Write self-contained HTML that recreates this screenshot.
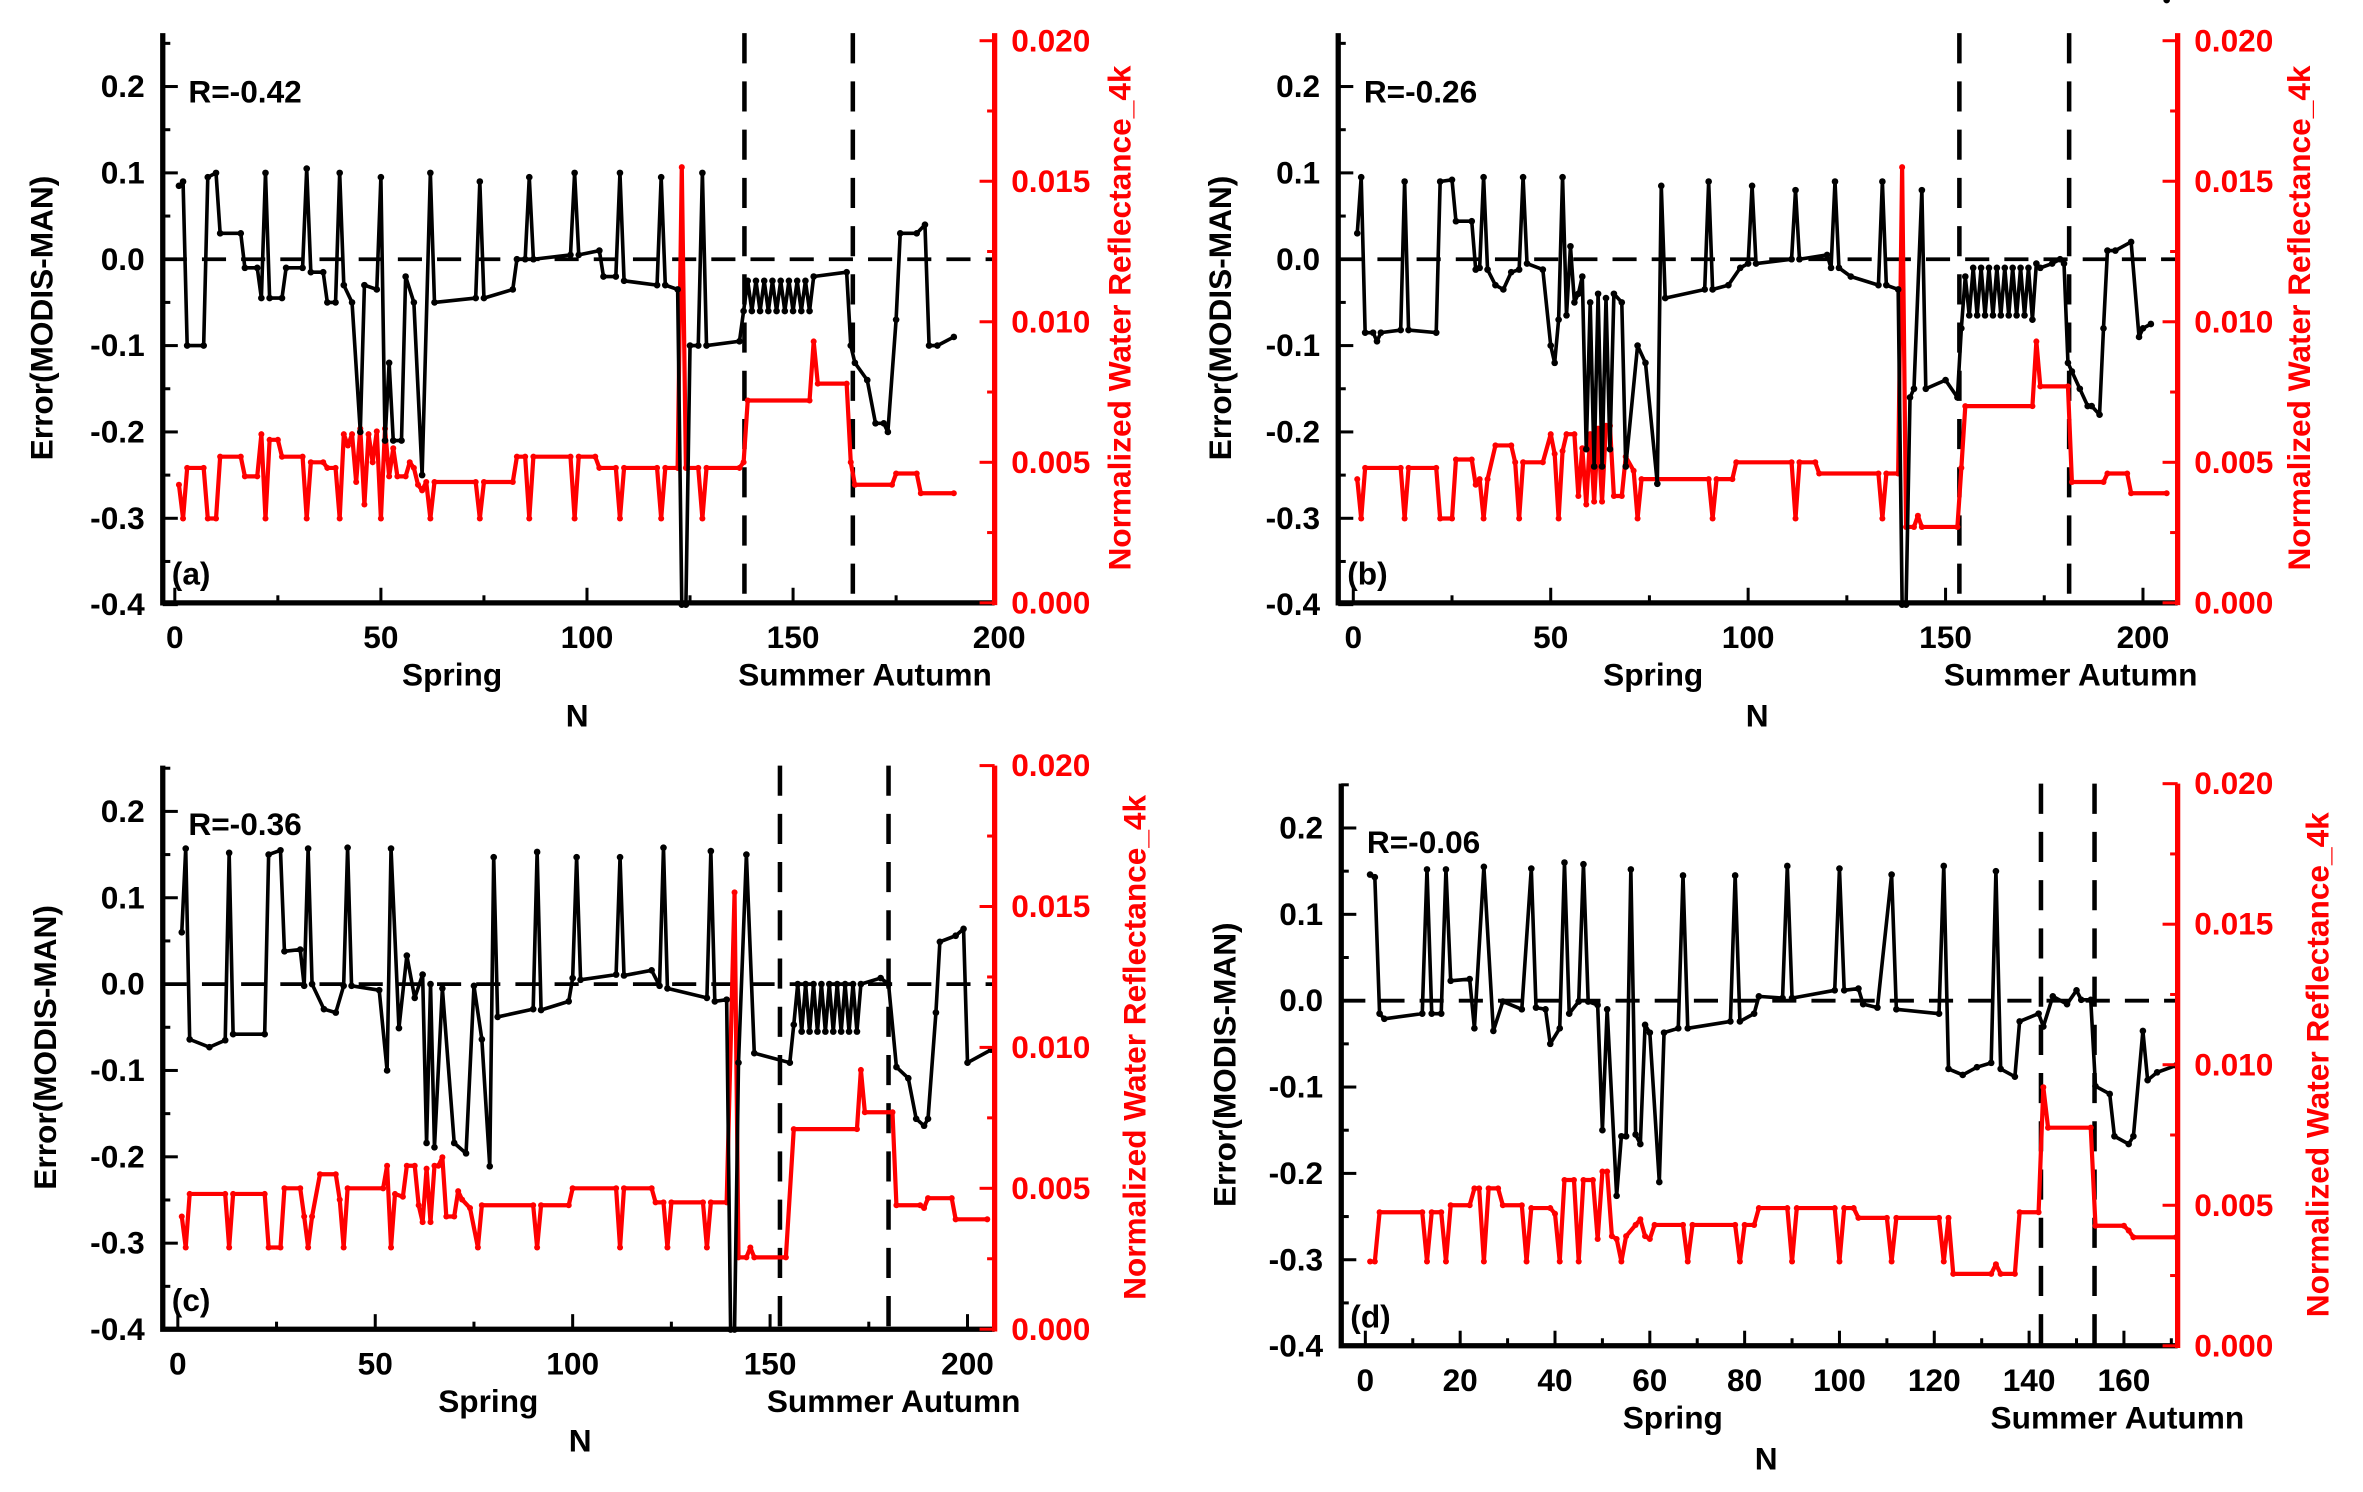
<!DOCTYPE html>
<html><head><meta charset="utf-8"><style>
html,body{margin:0;padding:0;background:#fff;}
svg{display:block;}
text{font-family:"Liberation Sans",sans-serif;font-weight:bold;}
</style></head><body>
<svg id="fig" xmlns="http://www.w3.org/2000/svg" width="2363" height="1492" viewBox="0 0 1568 990"></svg>
<script>
// ---------- DATA (N, error) key points per panel ----------
const aN=[1,2,3,7,8,10,11,16,17,20,21,22,23,26,27,31,32,33,36,37,39,40,41,43,45,46,49,50,51,52,53,55,56,58,60,62,63,73,74,75,82,83,85,86,87,96,97,98,103,104,107,108,109,117,118,119,122,123,124,125,127,128,129,137,138,139,140,141,142,143,144,145,146,147,148,149,150,151,152,153,154,155,163,164,165,168,170,172,173,175,176,180,182,183,185,189];
const aErr=[0.085,0.09,-0.1,-0.1,0.095,0.1,0.03,0.03,-0.01,-0.01,-0.045,0.1,-0.045,-0.045,-0.01,-0.01,0.105,-0.015,-0.015,-0.05,-0.05,0.1,-0.03,-0.05,-0.2,-0.03,-0.035,0.095,-0.21,-0.12,-0.21,-0.21,-0.02,-0.05,-0.25,0.1,-0.05,-0.045,0.09,-0.045,-0.035,0.0,0.0,0.095,0.0,0.005,0.1,0.005,0.01,-0.02,-0.02,0.1,-0.025,-0.03,0.095,-0.03,-0.035,-0.4,-0.4,-0.1,-0.1,0.1,-0.1,-0.095,-0.06,-0.025,-0.06,-0.025,-0.06,-0.025,-0.06,-0.025,-0.06,-0.025,-0.06,-0.025,-0.06,-0.025,-0.06,-0.025,-0.06,-0.02,-0.015,-0.1,-0.12,-0.14,-0.19,-0.19,-0.2,-0.07,0.03,0.03,0.04,-0.1,-0.1,-0.09];
const aRN=[1,2,3,7,8,10,11,16,17,20,21,22,23,25,26,31,32,33,36,37,39,40,41,42,43,44,45,46,47,48,49,50,51,52,53,54,56,57,58,59,60,61,62,63,73,74,75,82,83,85,86,87,96,97,98,102,103,107,108,109,117,118,119,122,123,124,127,128,129,137,138,139,154,155,156,163,164,165,174,175,180,181,189];
const aRef=[4.2,3.0,4.8,4.8,3.0,3.0,5.2,5.2,4.5,4.5,6.0,3.0,5.8,5.8,5.2,5.2,3.0,5.0,5.0,4.8,4.8,3.0,6.0,5.6,6.0,4.3,6.2,3.5,6.0,5.0,6.1,3.0,6.2,4.5,5.5,4.5,4.5,5.0,4.8,4.2,4.0,4.3,3.0,4.3,4.3,3.0,4.3,4.3,5.2,5.2,3.0,5.2,5.2,3.0,5.2,5.2,4.8,4.8,3.0,4.8,4.8,3.0,4.8,4.8,15.5,4.8,4.8,3.0,4.8,4.8,5.0,7.2,7.2,9.3,7.8,7.8,5.0,4.2,4.2,4.6,4.6,3.9,3.9];

const bN=[1,2,3,5,6,7,12,13,14,21,22,25,26,30,31,32,33,34,36,38,40,42,43,44,48,50,51,52,53,54,55,56,57,58,59,60,61,62,63,64,65,66,68,69,72,74,77,78,79,89,90,91,95,98,100,101,102,111,112,113,120,121,122,123,126,133,134,135,138,139,140,141,142,144,145,150,153,154,155,156,157,158,159,160,161,162,163,164,165,166,167,168,169,170,171,172,173,174,177,179,180,181,182,184,186,187,189,190,191,193,197,199,200,202,206];
const bErr=[0.03,0.095,-0.085,-0.085,-0.095,-0.085,-0.082,0.09,-0.082,-0.085,0.09,0.092,0.044,0.044,-0.012,-0.01,0.095,-0.012,-0.03,-0.035,-0.015,-0.012,0.095,-0.005,-0.012,-0.1,-0.12,-0.07,0.095,-0.065,0.015,-0.05,-0.04,-0.02,-0.22,-0.05,-0.24,-0.04,-0.24,-0.045,-0.22,-0.04,-0.05,-0.24,-0.1,-0.12,-0.26,0.085,-0.045,-0.035,0.09,-0.035,-0.03,-0.01,-0.005,0.085,-0.005,0.0,0.08,0.0,0.005,-0.01,0.09,-0.01,-0.02,-0.03,0.09,-0.03,-0.035,-0.4,-0.4,-0.16,-0.15,0.08,-0.15,-0.14,-0.16,-0.08,-0.02,-0.065,-0.01,-0.065,-0.01,-0.065,-0.01,-0.065,-0.01,-0.065,-0.01,-0.065,-0.01,-0.065,-0.01,-0.065,-0.01,-0.07,-0.005,-0.01,-0.005,0.0,-0.005,-0.12,-0.13,-0.15,-0.17,-0.17,-0.18,-0.08,0.01,0.01,0.02,-0.09,-0.08,-0.075];
const bRN=[1,2,3,12,13,14,21,22,25,26,30,31,32,33,34,36,40,41,42,43,48,50,51,52,53,54,56,57,58,59,60,61,62,63,64,65,66,68,69,71,72,73,90,91,92,96,97,111,112,113,117,118,133,134,135,138,139,140,142,143,144,153,154,155,172,173,174,181,182,190,191,196,197,206];
const bRef=[4.4,3.0,4.8,4.8,3.0,4.8,4.8,3.0,3.0,5.1,5.1,4.2,4.4,3.0,4.4,5.6,5.6,5.0,3.0,5.0,5.0,6.0,5.3,3.0,5.4,6.0,6.0,3.8,5.5,3.5,6.0,3.6,6.2,3.6,6.3,6.3,3.8,3.8,5.2,4.7,3.0,4.4,4.4,3.0,4.4,4.4,5.0,5.0,3.0,5.0,5.0,4.6,4.6,3.0,4.6,4.6,15.5,2.7,2.7,3.1,2.7,2.7,4.8,7.0,7.0,9.3,7.7,7.7,4.3,4.3,4.6,4.6,3.9,3.9];

const cN=[1,2,3,8,12,13,14,22,23,26,27,31,32,33,34,37,40,42,43,44,51,53,54,56,58,60,62,63,64,65,67,70,73,75,77,79,80,81,90,91,92,99,100,101,102,111,112,113,120,122,123,124,134,135,136,139,140,141,142,144,146,155,156,157,158,159,160,161,162,163,164,165,166,167,168,169,170,171,172,173,178,180,182,185,187,189,190,192,193,197,199,200,206];
const cErr=[0.06,0.157,-0.064,-0.073,-0.065,0.152,-0.058,-0.058,0.15,0.155,0.038,0.04,-0.002,0.157,0.0,-0.029,-0.033,-0.002,0.158,-0.002,-0.007,-0.1,0.157,-0.051,0.033,-0.016,0.011,-0.184,0.0,-0.189,-0.005,-0.184,-0.196,-0.002,-0.064,-0.211,0.147,-0.038,-0.029,0.153,-0.03,-0.02,0.007,0.147,0.005,0.011,0.147,0.01,0.016,-0.002,0.158,-0.005,-0.016,0.154,-0.02,-0.018,-0.4,-0.4,-0.091,0.15,-0.08,-0.091,-0.047,0.0,-0.055,0.0,-0.055,0.0,-0.055,0.0,-0.055,0.0,-0.055,0.0,-0.055,0.0,-0.055,0.0,-0.055,0.0,0.007,0.0,-0.096,-0.109,-0.156,-0.164,-0.156,-0.033,0.049,0.056,0.064,-0.091,-0.076];
const cRN=[1,2,3,12,13,14,22,23,26,27,31,32,33,34,36,40,41,42,43,52,53,54,55,57,58,60,61,62,63,64,65,66,67,68,70,71,72,74,76,77,90,91,92,99,100,111,112,113,120,121,123,124,125,133,134,135,139,141,142,144,145,146,154,156,172,173,174,181,182,188,189,190,196,197,205];
const cRef=[4.0,2.9,4.8,4.8,2.9,4.8,4.8,2.9,2.9,5.0,5.0,4.0,2.9,4.0,5.5,5.5,4.6,2.9,5.0,5.0,5.8,2.9,4.8,4.7,5.8,5.8,4.4,3.8,5.7,3.8,5.8,5.8,6.1,4.0,4.0,4.9,4.6,4.3,2.9,4.4,4.4,2.9,4.4,4.4,5.0,5.0,2.9,5.0,5.0,4.5,4.5,2.9,4.5,4.5,2.9,4.5,4.5,15.5,2.55,2.55,2.9,2.55,2.55,7.1,7.1,9.2,7.7,7.7,4.4,4.4,4.3,4.65,4.65,3.9,3.9];

const dN=[1,2,3,4,12,13,14,16,17,18,22,23,25,27,29,33,35,36,38,39,41,42,43,45,46,47,49,50,51,53,54,55,56,57,58,59,60,62,63,66,67,68,77,78,79,82,83,88,89,90,99,100,101,104,105,108,111,112,121,122,123,126,129,132,133,134,137,138,142,143,145,148,150,151,153,154,157,158,161,162,164,165,167,171];
const dErr=[0.146,0.143,-0.015,-0.021,-0.015,0.152,-0.015,-0.015,0.152,0.023,0.025,-0.032,0.155,-0.035,-0.001,-0.01,0.153,-0.008,-0.01,-0.05,-0.032,0.16,-0.015,-0.001,0.158,-0.001,-0.005,-0.15,-0.01,-0.226,-0.157,-0.157,0.152,-0.155,-0.166,-0.028,-0.037,-0.21,-0.037,-0.032,0.145,-0.032,-0.024,0.145,-0.024,-0.015,0.005,0.003,0.156,0.003,0.012,0.153,0.012,0.014,-0.004,-0.008,0.146,-0.01,-0.015,0.156,-0.079,-0.086,-0.077,-0.072,0.15,-0.079,-0.088,-0.024,-0.015,-0.03,0.005,-0.004,0.012,0.001,0.001,-0.099,-0.108,-0.157,-0.166,-0.157,-0.035,-0.092,-0.083,-0.075];
const dRN=[1,2,3,12,13,14,16,17,18,22,23,24,25,26,28,29,33,34,35,39,40,41,42,44,45,46,48,49,50,51,52,53,54,55,57,58,59,60,61,67,68,69,78,79,80,82,83,89,90,91,99,100,101,103,104,110,111,112,121,122,123,124,132,133,134,137,138,142,143,144,153,154,160,161,162,171];
const dRef=[3.0,3.0,4.75,4.75,3.0,4.75,4.75,3.0,5.0,5.0,5.6,5.6,3.0,5.6,5.6,5.0,5.0,3.0,4.9,4.9,4.7,3.0,5.9,5.9,3.0,5.9,5.9,3.8,6.2,6.2,3.9,3.8,3.0,3.9,4.3,4.5,3.9,3.8,4.3,4.3,3.0,4.3,4.3,3.0,4.3,4.3,4.9,4.9,3.0,4.9,4.9,3.0,4.9,4.9,4.55,4.55,3.0,4.55,4.55,3.0,4.55,2.56,2.56,2.9,2.56,2.56,4.75,4.75,9.2,7.76,7.76,4.27,4.27,4.1,3.86,3.86];

// tick labels
const xTicksAB=[0,50,100,150,200];
const xTicksD=[0,20,40,60,80,100,120,140,160];
const yTicks=[0.2,0.1,0.0,-0.1,-0.2,-0.3,-0.4];
const yTickLabels=["0.2","0.1","0.0","-0.1","-0.2","-0.3","-0.4"];
const rTicks=[0,5,10,15,20];
const rTickLabels=["0.000","0.005","0.010","0.015","0.020"];
const seasonA=[138.2,164.5], seasonB=[153.5,181.3], seasonC=[152.5,180], seasonD=[142.5,153.8];

const NS="http://www.w3.org/2000/svg";
const svg=document.getElementById('fig');
function el(tag,attrs,parent){const e=document.createElementNS(NS,tag);for(const k in attrs)e.setAttribute(k,attrs[k]);(parent||svg).appendChild(e);return e;}

const panels=[
 {id:'a',L:108,R:660,T:22,B:400,x0:116,pxN:2.735,y0:172,pxE:573,r0:400,pxR:18.65,xt:xTicksAB,minor:25,N:aN,E:aErr,RN:aRN,RV:aRef,season:seasonA,Rtxt:'R=-0.42',spring:300,sumAut:574,nx:383,labY:455,nY:482,ytx:35,rtx:750,tag:'(a)'},
 {id:'b',L:888,R:1445,T:22,B:400,x0:898,pxN:2.62,y0:172,pxE:573,r0:400,pxR:18.65,xt:xTicksAB,minor:25,N:bN,E:bErr,RN:bRN,RV:bRef,season:seasonB,Rtxt:'R=-0.26',spring:1097,sumAut:1374,nx:1166,labY:455,nY:482,ytx:817,rtx:1533,tag:'(b)'},
 {id:'c',L:108,R:660,T:508,B:882,x0:118,pxN:2.62,y0:653,pxE:573,r0:882,pxR:18.7,xt:xTicksAB,minor:25,N:cN,E:cErr,RN:cRN,RV:cRef,season:seasonC,Rtxt:'R=-0.36',spring:324,sumAut:593,nx:385,labY:937,nY:963,ytx:37,rtx:760,tag:'(c)'},
 {id:'d',L:890,R:1445,T:520,B:893,x0:906,pxN:3.146,y0:664,pxE:573,r0:893,pxR:18.65,xt:xTicksD,minor:10,N:dN,E:dErr,RN:dRN,RV:dRef,season:seasonD,Rtxt:'R=-0.06',spring:1110,sumAut:1405,nx:1172,labY:948,nY:975,ytx:820,rtx:1545,tag:'(d)'}
];

panels.forEach(p=>{
 const g=el('g',{});
 
 
 const X=n=>p.x0+n*p.pxN, Y=v=>p.y0-v*p.pxE*10/10, YR=r=>p.r0-r*p.pxR;
 // zero dashed line
 const z=el('line',{x1:p.L,x2:p.R,y1:Y(0),y2:Y(0),stroke:'#000','stroke-width':2.5,'stroke-dasharray':'16,10'},g);
 
 
 // season lines
 p.season.forEach((s,i)=>{
  const l=el('line',{x1:X(s),x2:X(s),y1:p.T,y2:p.B,stroke:'#000','stroke-width':3,'stroke-dasharray':'20,12'},g);
  
  
 });
 // red series
 const rp=p.RN.map((n,i)=>X(n)+','+YR(p.RV[i])).join(' ');
 const rl=el('polyline',{points:rp,fill:'none',stroke:'#f00','stroke-width':2.8,'stroke-linejoin':'round'},g);
 
 
 p.RN.forEach((n,i)=>{
  const c=el('circle',{cx:X(n),cy:YR(p.RV[i]),r:2,fill:'#f00'},g);
  
  
 });
 // black series
 const bp=p.N.map((n,i)=>X(n)+','+Y(p.E[i])).join(' ');
 const bl=el('polyline',{points:bp,fill:'none',stroke:'#000','stroke-width':2.4,'stroke-linejoin':'round'},g);
 
 
 p.N.forEach((n,i)=>{
  const c=el('circle',{cx:X(n),cy:Y(p.E[i]),r:2.2,fill:'#000'},g);
  
  
 });
 // axes
 const ax=el('path',{d:`M${p.L},${p.T} L${p.L},${p.B} L${p.R},${p.B}`,fill:'none',stroke:'#000','stroke-width':3.5},g);
 
 
 const ra=el('line',{x1:p.R,x2:p.R,y1:p.T,y2:p.B+1.5,stroke:'#f00','stroke-width':3.5},g);
 
 
 // x ticks
 const maxN=(p.R-p.x0)/p.pxN;
 for(let n=0;n<=maxN;n+=p.minor){
  const major=p.xt.includes(n);
  el('line',{x1:X(n),x2:X(n),y1:p.B,y2:p.B-(major?10:5),stroke:'#000','stroke-width':2},g);
 }
 p.xt.forEach(n=>{
  const t=el('text',{x:X(n),y:p.B+30,'text-anchor':'middle','font-size':21},g);
  t.textContent=n;
  
  
 });
 // y ticks
 yTicks.forEach((v,i)=>{
  el('line',{x1:p.L,x2:p.L+10,y1:Y(v),y2:Y(v),stroke:'#000','stroke-width':2},g);
  el('line',{x1:p.L,x2:p.L+5,y1:Y(v+0.05),y2:Y(v+0.05),stroke:'#000','stroke-width':2},g);
  const t=el('text',{x:p.L-12,y:Y(v)+7,'text-anchor':'end','font-size':21},g);
  t.textContent=yTickLabels[i];
  
  
 });
 rTicks.forEach((r,i)=>{
  el('line',{x1:p.R,x2:p.R-10,y1:YR(r),y2:YR(r),stroke:'#f00','stroke-width':2},g);
  if(r<20) el('line',{x1:p.R,x2:p.R-5,y1:YR(r+2.5),y2:YR(r+2.5),stroke:'#f00','stroke-width':2},g);
  const t=el('text',{x:p.R+11,y:YR(r)+7,'font-size':21,fill:'#f00'},g);
  t.textContent=rTickLabels[i];
  
  
 });
 // titles
 const cy=(p.T+p.B)/2;
 const yt=el('text',{x:p.ytx,y:cy,'text-anchor':'middle','font-size':21,transform:`rotate(-90 ${p.ytx} ${cy})`},g);
 yt.textContent='Error(MODIS-MAN)';
 
 
 const rt=el('text',{x:p.rtx,y:cy,'text-anchor':'middle','font-size':21,fill:'#f00',transform:`rotate(-90 ${p.rtx} ${cy})`},g);
 rt.textContent='Normalized Water Reflectance_4k';
 
 
 const sp=el('text',{x:p.spring,y:p.labY,'text-anchor':'middle','font-size':21},g);
 sp.textContent='Spring';
 
 
 const sa=el('text',{x:p.sumAut,y:p.labY,'text-anchor':'middle','font-size':21},g);
 sa.textContent='Summer  Autumn';
 
 
 const nl=el('text',{x:p.nx,y:p.nY,'text-anchor':'middle','font-size':21},g);
 nl.textContent='N';
 
 
 const rr=el('text',{x:p.L+17,y:p.T+46,'font-size':21},g);
 rr.textContent=p.Rtxt;
 
 
 const tg=el('text',{x:p.L+6,y:p.B-12,'font-size':21,'font-weight':'normal'},g);
 tg.textContent=p.tag;
 
 
});
</script>
</body></html>
